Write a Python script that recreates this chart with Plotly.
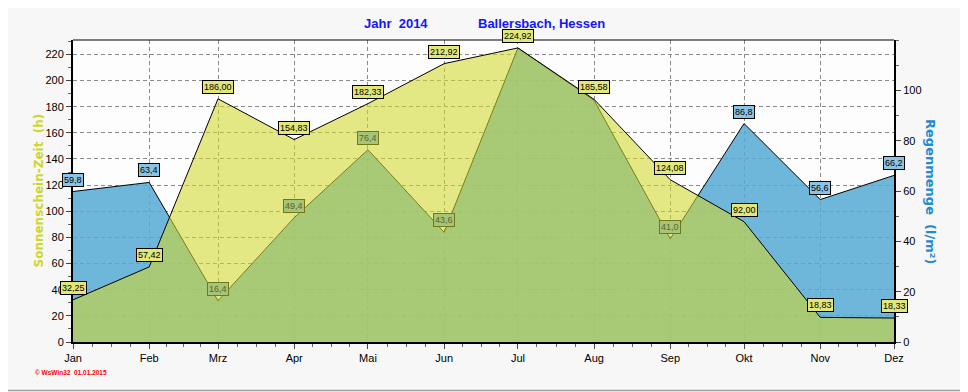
import plotly.graph_objects as go
import pandas as pd

# ---------------- data ----------------
months = ["Jan", "Feb", "Mrz", "Apr", "Mai", "Jun", "Jul", "Aug", "Sep", "Okt", "Nov", "Dez"]
dates = ["2014-01-01", "2014-02-01", "2014-03-01", "2014-04-01", "2014-05-01", "2014-06-01",
         "2014-07-01", "2014-08-01", "2014-09-01", "2014-10-01", "2014-11-01", "2014-12-01"]
sunshine = [32.25, 57.42, 186.00, 154.83, 182.33, 212.92, 224.92, 185.58, 124.08, 92.00, 18.83, 18.33]
rain = [59.8, 63.4, 16.4, 49.4, 76.4, 43.6, 116.8, 96.0, 41.0, 86.8, 56.6, 66.2]
left_ticks = [0, 20, 40, 60, 80, 100, 120, 140, 160, 180, 200, 220]
right_ticks = [0, 20, 40, 60, 80, 100]

LEFT_MAX = 231.0
RIGHT_MAX = 120.0

# The page body has an 8px margin, so the figure is drawn 8px in and 8px down.
OFF = 8
W, H = 968 - OFF, 392 - OFF
# target plot area in window pixels: x 73..894, y 40..342
L, R, T, B = 73 - OFF, 968 - 894, 40 - OFF, 392 - 342
PW, PH = W - L - R, H - T - B


def px_x(p):  # window px -> paper
    return (p - 73) / PW


def px_y(p):
    return (342 - p) / PH


def de(v, nd):
    return f"{v:.{nd}f}".replace(".", ",")


# minor x ticks: quarter months
dt = pd.to_datetime(dates)
minor_x = []
for a, b in zip(dt[:-1], dt[1:]):
    for k in (1, 2, 3):
        minor_x.append((a + (b - a) * k / 4).strftime("%Y-%m-%d %H:%M"))

fig = go.Figure()
# rain (base subplot, right axis)
fig.add_trace(go.Scatter(
    x=dates, y=rain, yaxis="y", mode="lines", fill="tozeroy",
    fillcolor="rgba(86,169,213,0.85)", line=dict(color="black", width=1),
    hoverinfo="skip", showlegend=False))
# sunshine (overlay subplot, left axis) -> drawn above rain
fig.add_trace(go.Scatter(
    x=dates, y=sunshine, yaxis="y2", mode="lines", fill="tozeroy",
    fillcolor="rgba(210,217,45,0.58)", line=dict(color="black", width=1),
    hoverinfo="skip", showlegend=False))

ann = []
lab_font = dict(family="Liberation Sans, Arial", size=9, color="black")
px_per_left = PH / LEFT_MAX
px_per_right = PH / RIGHT_MAX
# rain labels first (sunshine labels drawn on top)
for d, r, s in zip(dates, rain, sunshine):
    # labels completely covered by the sunshine label in the reference are not drawn
    if abs(r * px_per_right - s * px_per_left) < 8:
        continue
    shaded = r * LEFT_MAX / RIGHT_MAX + 14 < s
    if shaded:
        ann.append(dict(x=d, y=r, xref="x", yref="y", text=de(r, 1), showarrow=False,
                        yshift=12, font=dict(family="Liberation Sans, Arial", size=9, color="#5e6418"),
                        bgcolor="#a6c47a", bordercolor="#707818", borderwidth=1, borderpad=1))
    else:
        ann.append(dict(x=d, y=r, xref="x", yref="y", text=de(r, 1), showarrow=False,
                        yshift=12, font=lab_font,
                        bgcolor="#8cc3e4", bordercolor="black", borderwidth=1, borderpad=1))
for d, s in zip(dates, sunshine):
    ann.append(dict(x=d, y=s, xref="x", yref="y2", text=de(s, 2), showarrow=False,
                    yshift=12, font=lab_font,
                    bgcolor="#e3e678", bordercolor="black", borderwidth=1, borderpad=1))

title_font = dict(family="Liberation Sans, Arial", size=13, color="#1414ff")
ann.append(dict(x=px_x(362), y=px_y(24), xref="paper", yref="paper", showarrow=False,
                text="<b>Jahr\u00a0\u00a02014</b>", font=title_font, xanchor="left", yanchor="middle"))
ann.append(dict(x=px_x(541.5), y=px_y(24), xref="paper", yref="paper", showarrow=False,
                text="<b>Ballersbach, Hessen</b>", font=title_font, xanchor="center", yanchor="middle"))
ann.append(dict(x=px_x(38.5), y=px_y(191), xref="paper", yref="paper", showarrow=False,
                text="<b>Sonnenschein-Zeit\u00a0\u00a0(h)</b>", textangle=-90,
                font=dict(family="DejaVu Sans", size=12, color="#cdd62a"),
                xanchor="center", yanchor="middle"))
ann.append(dict(x=px_x(931), y=px_y(191), xref="paper", yref="paper", showarrow=False,
                text="<b>Regenmenge\u00a0\u00a0(l/m²)</b>", textangle=90,
                font=dict(family="DejaVu Sans", size=13, color="#1e8cd2"),
                xanchor="center", yanchor="middle"))
ann.append(dict(x=px_x(33), y=px_y(372), xref="paper", yref="paper", showarrow=False,
                text="<b>© WsWin32\u00a0\u00a001.01.2015</b>",
                font=dict(family="Liberation Sans, Arial", size=6.5, color="#ff0000"),
                xanchor="left", yanchor="middle"))

shapes = [
    # thin top frame line
    dict(type="line", xref="paper", yref="paper", x0=0, x1=1, y0=1, y1=1,
         line=dict(color="black", width=1)),
    # paper border bottom / right
    dict(type="line", xref="paper", yref="paper", x0=px_x(0), x1=px_x(968), y0=px_y(390.5), y1=px_y(390.5),
         line=dict(color="#a0a0a0", width=1.5)),
    dict(type="line", xref="paper", yref="paper", x0=px_x(966.5), x1=px_x(966.5), y0=px_y(0), y1=px_y(391),
         line=dict(color="#a0a0a0", width=1.5)),
]

tick_font = dict(family="Liberation Sans, Arial", size=11, color="black")
fig.update_layout(
    width=W, height=H,
    margin=dict(l=L, r=R, t=T, b=B, pad=0),
    paper_bgcolor="#f7f7f7", plot_bgcolor="#fdfdfd",
    showlegend=False,
    annotations=ann, shapes=shapes,
    xaxis=dict(type="date", range=[dates[0], dates[-1]], tickvals=dates, ticktext=months,
               showgrid=True, gridcolor="#8a8a8a", griddash="4px,3px", gridwidth=1,
               showline=True, linecolor="black", linewidth=2,
               ticks="outside", ticklen=5, tickcolor="#444", tickfont=tick_font,
               minor=dict(tickvals=minor_x, ticks="outside", ticklen=3, tickcolor="#666", showgrid=False),
               zeroline=False, fixedrange=True),
    yaxis=dict(side="right", range=[0, RIGHT_MAX], tickvals=right_ticks,
               showgrid=False, zeroline=False, showline=True, linecolor="black", linewidth=2,
               ticks="outside", ticklen=5, tickcolor="#444", tickfont=tick_font,
               minor=dict(dtick=10, ticks="outside", ticklen=3, tickcolor="#666"),
               anchor="x"),
    yaxis2=dict(side="left", overlaying="y", range=[0, LEFT_MAX], tickvals=left_ticks,
                showgrid=True, gridcolor="#8a8a8a", griddash="4px,3px", gridwidth=1,
                zeroline=False, showline=True, linecolor="black", linewidth=2,
                ticks="outside", ticklen=5, tickcolor="#444", tickfont=tick_font,
                minor=dict(dtick=10, ticks="outside", ticklen=3, tickcolor="#666"),
                anchor="x"),
)

fig.write_html("out.html")
